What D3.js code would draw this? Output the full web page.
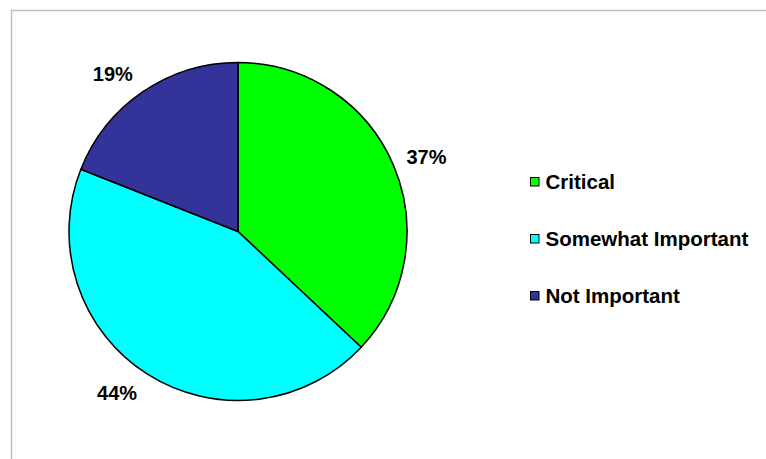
<!DOCTYPE html>
<html>
<head>
<meta charset="utf-8">
<script src="https://cdn.jsdelivr.net/npm/d3@7"></script>
<style>
  html, body { margin: 0; padding: 0; background: #fff; }
  svg { display: block; }
  text { font-family: "Liberation Sans", Arial, sans-serif; font-weight: bold; fill: #000; }
</style>
</head>
<body>
<svg id="chart" width="766" height="459"></svg>
<script>
// Survey responses: share of answers per importance level (percent)
const categories = ["Critical", "Somewhat Important", "Not Important"];
const values = [37, 44, 19];
const colors = ["#00ff00", "#00ffff", "#333399"];
const valueLabels = ["37%", "44%", "19%"];

const svg = d3.select("#chart");

// Chart area frame (runs past the right and bottom edges)
svg.append("rect")
  .attr("x", 11.5).attr("y", 10.5)
  .attr("width", 900).attr("height", 600)
  .attr("fill", "#fff")
  .attr("stroke", "#bfbfbf")
  .attr("stroke-width", 1.5);

const cx = 238, cy = 231.5, r = 169;

const pie = d3.pie().sort(null).value(d => d);
const arcs = pie(values);
const arc = d3.arc().innerRadius(0).outerRadius(r);
const labelArc = d3.arc().innerRadius(r * 1.17).outerRadius(r * 1.17);

const g = svg.append("g").attr("transform", `translate(${cx},${cy})`);

g.selectAll("path.slice")
  .data(arcs)
  .join("path")
  .attr("class", "slice")
  .attr("d", arc)
  .attr("fill", (d, i) => colors[i])
  .attr("stroke", "#000")
  .attr("stroke-width", 1.5)
  .attr("stroke-linejoin", "round");

// Percentage labels placed just outside each slice
const labelOffsets = [[7, 4], [-15, -5], [-14, 6]];
g.selectAll("text.pct")
  .data(arcs)
  .join("text")
  .attr("class", "pct")
  .attr("text-anchor", "middle")
  .attr("font-size", 20)
  .attr("x", (d, i) => labelArc.centroid(d)[0] + labelOffsets[i][0])
  .attr("y", (d, i) => labelArc.centroid(d)[1] + 7 + labelOffsets[i][1])
  .text((d, i) => valueLabels[i]);

// Legend
const legendY = d3.scalePoint().domain(categories).range([182, 296]);
const legend = svg.append("g");
const rows = legend.selectAll("g.row")
  .data(categories)
  .join("g")
  .attr("class", "row")
  .attr("transform", d => `translate(530,${legendY(d)})`);

rows.append("rect")
  .attr("x", 0.5).attr("y", -4.5)
  .attr("width", 8.5).attr("height", 8.5)
  .attr("fill", (d, i) => colors[i])
  .attr("stroke", "#000")
  .attr("stroke-width", 1);

rows.append("text")
  .attr("x", 15.5)
  .attr("y", 7)
  .attr("font-size", 20.5)
  .text(d => d);
</script>
</body>
</html>
